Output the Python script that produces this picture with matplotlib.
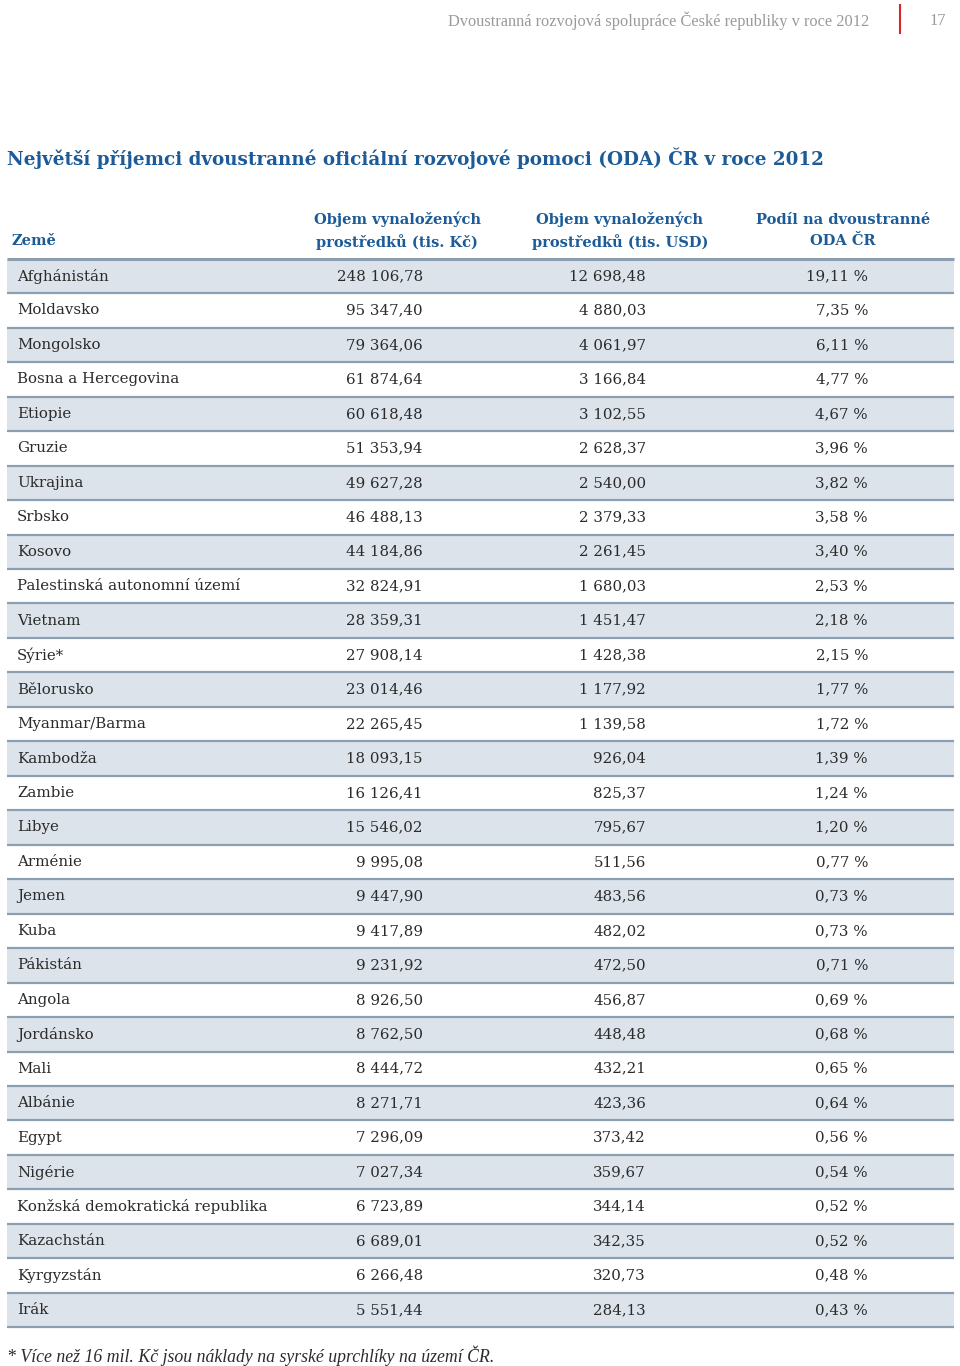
import matplotlib
matplotlib.use("Agg")
import matplotlib.pyplot as plt

countries = ["Afghánistán", "Moldavsko", "Mongolsko", "Bosna a Hercegovina", "Etiopie",
             "Gruzie", "Ukrajina", "Srbsko", "Kosovo", "Palestinská autonomní území",
             "Vietnam", "Sýrie*", "Bělorusko", "Myanmar/Barma", "Kambodža", "Zambie",
             "Libye", "Arménie", "Jemen", "Kuba", "Pákistán", "Angola", "Jordánsko",
             "Mali", "Albánie", "Egypt", "Nigérie", "Konžská demokratická republika",
             "Kazachstán", "Kyrgyzstán", "Irák"]
czk = ["248 106,78", "95 347,40", "79 364,06", "61 874,64", "60 618,48", "51 353,94",
       "49 627,28", "46 488,13", "44 184,86", "32 824,91", "28 359,31", "27 908,14",
       "23 014,46", "22 265,45", "18 093,15", "16 126,41", "15 546,02", "9 995,08",
       "9 447,90", "9 417,89", "9 231,92", "8 926,50", "8 762,50", "8 444,72",
       "8 271,71", "7 296,09", "7 027,34", "6 723,89", "6 689,01", "6 266,48", "5 551,44"]
usd = ["12 698,48", "4 880,03", "4 061,97", "3 166,84", "3 102,55", "2 628,37",
       "2 540,00", "2 379,33", "2 261,45", "1 680,03", "1 451,47", "1 428,38",
       "1 177,92", "1 139,58", "926,04", "825,37", "795,67", "511,56", "483,56",
       "482,02", "472,50", "456,87", "448,48", "432,21", "423,36", "373,42",
       "359,67", "344,14", "342,35", "320,73", "284,13"]
share = ["19,11 %", "7,35 %", "6,11 %", "4,77 %", "4,67 %", "3,96 %", "3,82 %",
         "3,58 %", "3,40 %", "2,53 %", "2,18 %", "2,15 %", "1,77 %", "1,72 %",
         "1,39 %", "1,24 %", "1,20 %", "0,77 %", "0,73 %", "0,73 %", "0,71 %",
         "0,69 %", "0,68 %", "0,65 %", "0,64 %", "0,56 %", "0,54 %", "0,52 %",
         "0,52 %", "0,48 %", "0,43 %"]
headers = ["Země", "Objem vynaložených\nprostředků (tis. Kč)",
           "Objem vynaložených\nprostředků (tis. USD)", "Podíl na dvoustranné\nODA ČR"]
title = "Největší příjemci dvoustranné oficiální rozvojové pomoci (ODA) ČR v roce 2012"
running_head = "Dvoustranná rozvojová spolupráce České republiky v roce 2012"
page_no = "17"
footnote = "* Více než 16 mil. Kč jsou náklady na syrské uprchlíky na území ČR."

W, H = 960, 1366
fig = plt.figure(figsize=(W / 100, H / 100), dpi=100)
ax = fig.add_axes([0, 0, 1, 1])
ax.set_xlim(0, W)
ax.set_ylim(H, 0)
ax.axis("off")

BLUE = "#1c5b98"
SHADE = "#dce3eb"
LINE = "#8c9fb0"
TXT = "#2b2b2b"
GRAY = "#9a9a9a"
serif = "DejaVu Serif"

# running head
ax.text(869, 21, running_head, ha="right", va="center", fontsize=11.8,
        color=GRAY, family="Liberation Serif")
ax.plot([900, 900], [5, 33], color="#d7262b", lw=1.5)
ax.text(946, 21, page_no, ha="right", va="center", fontsize=11.8, color=GRAY,
        family="Liberation Serif")

# title
ax.text(7, 158, title, ha="left", va="center", fontsize=13.2, color=BLUE,
        family=serif, weight="bold")

# headers
ax.text(12, 241, headers[0], ha="left", va="center", fontsize=10.5, color=BLUE,
        family=serif, weight="bold")
for cx, h in zip([397, 620, 843], headers[1:]):
    ax.text(cx, 230.5, h, ha="center", va="center", fontsize=10.5, color=BLUE,
            family=serif, weight="bold", linespacing=1.55)

# rows
y0 = 276.0
pitch = (1310.0 - 276.0) / (len(countries) - 1)
xl, xr = 7, 954
for i, (c, a, b, s) in enumerate(zip(countries, czk, usd, share)):
    yc = y0 + i * pitch
    top, bot = yc - pitch / 2, yc + pitch / 2
    if i % 2 == 0:
        ax.fill_between([xl, xr], top, bot, color=SHADE, lw=0, zorder=0)
    ax.text(17, yc, c, ha="left", va="center", fontsize=10.8, color=TXT, family=serif)
    ax.text(423, yc, a, ha="right", va="center", fontsize=10.8, color=TXT, family=serif)
    ax.text(646, yc, b, ha="right", va="center", fontsize=10.8, color=TXT, family=serif)
    ax.text(868, yc, s, ha="right", va="center", fontsize=10.8, color=TXT, family=serif)
    ax.plot([xl, xr], [bot, bot], color=LINE, lw=1.6, zorder=2, solid_capstyle="butt")
ax.plot([xl, xr], [y0 - pitch / 2, y0 - pitch / 2], color=LINE, lw=2.2, zorder=2,
        solid_capstyle="butt")

# footnote
ax.text(7, 1356, footnote, ha="left", va="center", fontsize=12.8, color=TXT,
        family="Liberation Serif", style="italic")

fig.savefig("out.png", dpi=100)
